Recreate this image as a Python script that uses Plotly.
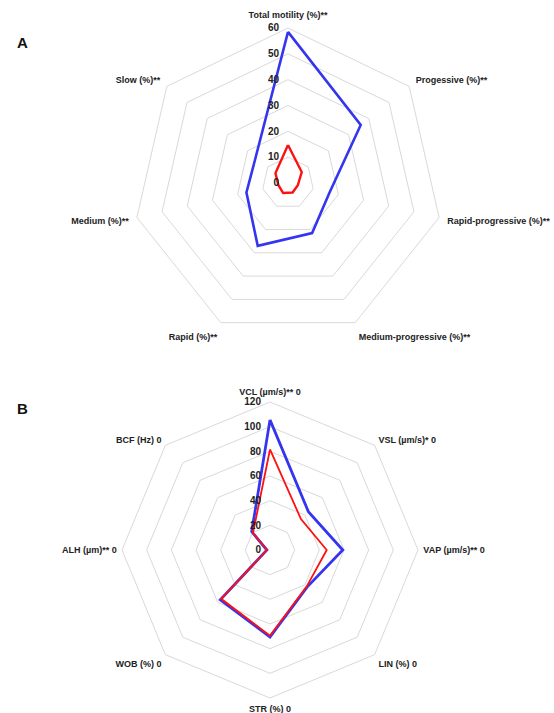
import plotly.graph_objects as go

# Panel A: motility categories
motility_labels = [
    "Total motility (%)**",
    "Progessive (%)**",
    "Rapid-progressive (%)**",
    "Medium-progressive (%)**",
    "Rapid (%)**",
    "Medium (%)**",
    "Slow (%)**",
]
motility_blue = [58.5, 36, 16.5, 21.5, 27, 16.5, 16]
motility_red = [14.7, 6.8, 3.9, 4.1, 4.3, 3.8, 6.2]
motility_ticks = [0, 10, 20, 30, 40, 50, 60]

# Panel B: kinematic parameters
kinematic_labels = [
    "VCL (µm/s)** 0",
    "VSL (µm/s)* 0",
    "VAP (µm/s)** 0",
    "LIN (%) 0",
    "STR (%) 0",
    "WOB (%) 0",
    "ALH (µm)** 0",
    "BCF (Hz) 0",
]
kinematic_blue = [105.5, 44, 59, 42.5, 70.5, 57, 2.5, 21]
kinematic_red = [81.5, 35.5, 46, 42, 69.5, 56, 2.5, 19.5]
kinematic_ticks = [0, 20, 40, 60, 80, 100, 120]

BLUE = "#3535f0"
RED = "#ff1010"
GRID = "#d9d9d9"
FONT = "Liberation Sans"

W, H = 554, 713


def closed(vals):
    return list(vals) + [vals[0]]


fig = go.Figure()

fig.add_trace(go.Scatterpolar(
    r=closed(motility_blue), theta=closed(motility_labels), mode="lines",
    line=dict(color=BLUE, width=2.6), name="Group 1", subplot="polar"))
fig.add_trace(go.Scatterpolar(
    r=closed(motility_red), theta=closed(motility_labels), mode="lines",
    line=dict(color=RED, width=2.4), name="Group 2", subplot="polar"))

fig.add_trace(go.Scatterpolar(
    r=closed(kinematic_blue), theta=closed(kinematic_labels), mode="lines",
    line=dict(color=BLUE, width=2.8), name="Group 1", subplot="polar2"))
fig.add_trace(go.Scatterpolar(
    r=closed(kinematic_red), theta=closed(kinematic_labels), mode="lines",
    line=dict(color=RED, width=1.8), name="Group 2", subplot="polar2"))


def px_domain(cx, cy, rad):
    x0, x1 = (cx - rad) / W, (cx + rad) / W
    y0, y1 = 1 - (cy + rad) / H, 1 - (cy - rad) / H
    return dict(x=[x0, x1], y=[y0, y1])


def polar_layout(dom, rng, ticks, pad):
    return dict(
        domain=dom,
        gridshape="linear",
        bgcolor="white",
        radialaxis=dict(
            range=rng, tickvals=ticks, ticktext=[str(t) for t in ticks],
            angle=90, side="counterclockwise", showline=False,
            ticks="outside", ticklen=5, tickcolor="rgba(0,0,0,0)",
            gridcolor=GRID, gridwidth=1,
            tickfont=dict(family=FONT, size=10, color="#222", weight="bold"),
            tickangle=90,
        ),
        angularaxis=dict(
            rotation=90, direction="clockwise", showgrid=False,
            showline=True, linecolor=GRID, linewidth=1,
            ticks="outside", ticklen=pad, tickcolor="rgba(0,0,0,0)",
            tickfont=dict(family=FONT, size=9, color="#222", weight="bold"),
        ),
    )


fig.update_layout(
    width=W, height=H,
    margin=dict(l=0, r=0, t=0, b=0),
    paper_bgcolor="white",
    showlegend=False,
    font=dict(family=FONT, color="#222"),
    polar=polar_layout(px_domain(288, 183, 155), [0, 60], motility_ticks, 6),
    polar2=polar_layout(px_domain(270, 550, 148), [0, 120], kinematic_ticks, 3),
    annotations=[
        dict(text="<b>A</b>", x=15 / W, y=1 - 32 / H, xref="paper", yref="paper",
             showarrow=False, font=dict(family=FONT, size=15, color="#111")),
        dict(text="<b>B</b>", x=15 / W, y=1 - 408 / H, xref="paper", yref="paper",
             showarrow=False, font=dict(family=FONT, size=15, color="#111")),
    ],
)

fig.write_html("out.html")
